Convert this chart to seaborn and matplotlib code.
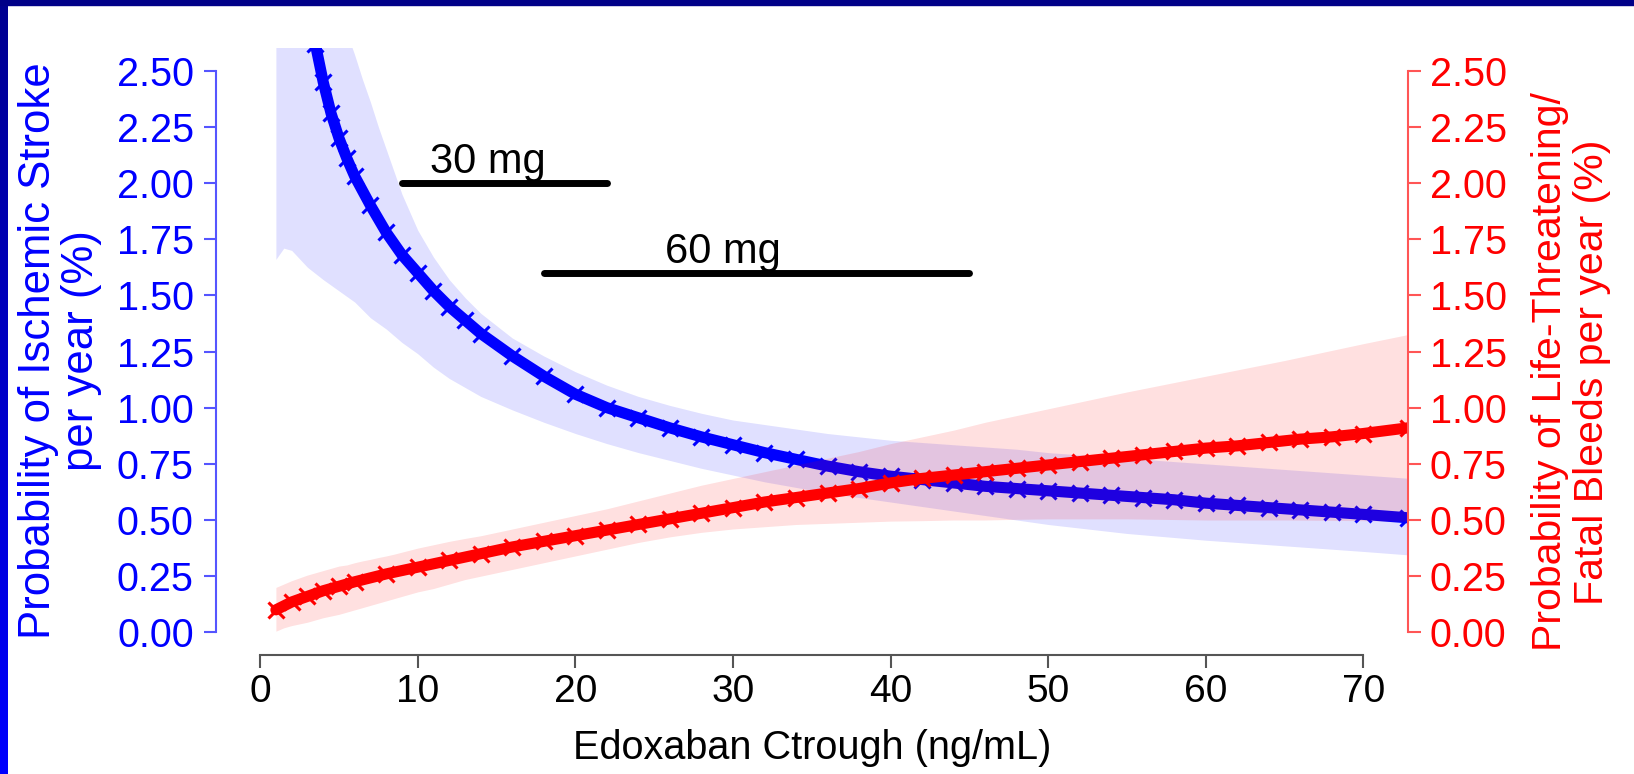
import numpy as np
import matplotlib
matplotlib.use("Agg")
import matplotlib.pyplot as plt
from matplotlib.patches import Rectangle
import seaborn as sns

# ------------------------------------------------------------
# Values
# ------------------------------------------------------------
# Ischemic stroke (blue, left axis) - central estimate
stroke_x = [3.5, 4, 4.5, 5, 5.5, 6, 7, 8, 9, 10, 11, 12, 13, 14,
            16, 18, 20, 22, 24, 26, 28, 30, 32, 34, 36, 38, 40, 42,
            44, 46, 48, 50, 52, 54, 56, 58, 60, 62, 64, 66, 68, 70, 72.8]
stroke_y = [2.62, 2.45, 2.31, 2.20, 2.11, 2.03, 1.90, 1.78, 1.68, 1.60, 1.52, 1.45, 1.39, 1.33,
            1.23, 1.14, 1.06, 1.00, 0.955, 0.91, 0.87, 0.835, 0.80, 0.77, 0.74, 0.715, 0.695, 0.68,
            0.665, 0.65, 0.64, 0.63, 0.62, 0.61, 0.60, 0.59, 0.575, 0.565, 0.555, 0.545, 0.535, 0.525, 0.51]

# Life-threatening / fatal bleeds (red, right axis) - central estimate
bleed_x = [1, 2, 3, 4, 5, 6, 8, 10, 12, 14, 16, 18, 20, 22, 24, 26, 28, 30, 32,
           34, 36, 38, 40, 42, 44, 46, 48, 50, 52, 54, 56, 58, 60, 62, 64, 66, 68, 70, 72.8]
bleed_y = [0.10, 0.135, 0.16, 0.185, 0.205, 0.225, 0.26, 0.29, 0.32, 0.35, 0.38, 0.405, 0.43,
           0.455, 0.48, 0.505, 0.53, 0.555, 0.58, 0.60, 0.62, 0.64, 0.665, 0.685, 0.70, 0.715,
           0.73, 0.745, 0.76, 0.775, 0.79, 0.805, 0.82, 0.83, 0.845, 0.86, 0.87, 0.885, 0.91]

# confidence bands
band_x = [1, 1.5, 2, 3, 4, 5, 5.5, 6, 6.5, 7, 7.5, 8, 8.5, 9, 10, 11, 12, 13, 14,
          16, 18, 20, 22, 24, 26, 28, 30, 32, 34, 36, 38, 40, 42, 44, 46, 48, 50,
          55, 60, 65, 70, 72.8]
stroke_hi = [2.75, 2.75, 2.75, 2.75, 2.75, 2.72, 2.67, 2.57, 2.46, 2.36, 2.25, 2.15, 2.05, 1.95,
             1.79, 1.67, 1.57, 1.49, 1.42, 1.31, 1.23, 1.16, 1.10, 1.05, 1.01, 0.975, 0.945,
             0.925, 0.905, 0.885, 0.87, 0.855, 0.845, 0.835, 0.825, 0.815, 0.80,
             0.775, 0.75, 0.725, 0.70, 0.686]
stroke_lo = [1.66, 1.71, 1.70, 1.625, 1.57, 1.52, 1.495, 1.47, 1.435, 1.40, 1.375, 1.35, 1.32, 1.29,
             1.24, 1.18, 1.13, 1.09, 1.05, 0.99, 0.935, 0.885, 0.84, 0.80, 0.765, 0.73, 0.70,
             0.67, 0.645, 0.62, 0.60, 0.58, 0.56, 0.54, 0.52, 0.50, 0.48,
             0.44, 0.41, 0.385, 0.36, 0.345]
bleed_hi = [0.20, 0.215, 0.23, 0.255, 0.275, 0.295, 0.30, 0.31, 0.318, 0.325, 0.333, 0.34, 0.348, 0.357,
            0.375, 0.39, 0.405, 0.418, 0.43, 0.46, 0.49, 0.52, 0.55, 0.585, 0.62, 0.655, 0.685,
            0.715, 0.745, 0.775, 0.805, 0.84, 0.87, 0.90, 0.935, 0.965, 0.995,
            1.07, 1.14, 1.21, 1.285, 1.325]
bleed_lo = [0.005, 0.02, 0.03, 0.045, 0.065, 0.08, 0.09, 0.10, 0.11, 0.12, 0.13, 0.14, 0.15, 0.16,
            0.18, 0.195, 0.215, 0.235, 0.25, 0.28, 0.31, 0.34, 0.37, 0.40, 0.425, 0.445, 0.46,
            0.47, 0.48, 0.485, 0.49, 0.495, 0.497, 0.50, 0.50, 0.503, 0.505,
            0.505, 0.50, 0.50, 0.497, 0.495]

# dose range bars
dose_labels = ["30 mg", "60 mg"]
dose_start = [9, 18]
dose_end = [22, 45]
dose_level = [2.0, 1.6]

x_ticks = [0, 10, 20, 30, 40, 50, 60, 70]
y_ticks = [0.0, 0.25, 0.5, 0.75, 1.0, 1.25, 1.5, 1.75, 2.0, 2.25, 2.5]

# ------------------------------------------------------------
# Style
# ------------------------------------------------------------
sns.set_theme(style="white")
plt.rcParams["font.family"] = ["Liberation Sans", "DejaVu Sans"]

BLUE = "#0000ff"
RED = "#ff0000"

W, H = 1634, 774
fig = plt.figure(figsize=(W / 100, H / 100), dpi=100)
fig.patch.set_facecolor("white")

# slide frame: navy strip on top, blue gradient strip on the left
ax_bg = fig.add_axes([0, 0, 8 / W, 1])
grad = np.linspace(0, 1, 256).reshape(-1, 1)
ax_bg.imshow(grad, aspect="auto", extent=[0, 1, 0, 1],
             cmap=matplotlib.colors.LinearSegmentedColormap.from_list("b", ["#0000ff", "#000090"]),
             origin="lower")
ax_bg.set_axis_off()
fig.patches.append(Rectangle((0, 1 - 5 / H), 1, 5 / H, transform=fig.transFigure,
                             color="#000088", zorder=10))

left, right = 216 / W, 1407.5 / W
bottom, top = 1 - 654.8 / H, 1 - 48.2 / H
ax = fig.add_axes([left, bottom, right - left, top - bottom])
ax.set_facecolor("white")

# blue band + curve (left axis)
ax.fill_between(band_x, stroke_lo, stroke_hi, color=BLUE, alpha=0.12, linewidth=0)
sns.lineplot(x=stroke_x, y=stroke_y, ax=ax, color=BLUE, linewidth=8, marker="x",
             markersize=11, markeredgewidth=2.2, markeredgecolor=BLUE)

ax.set_xlim(-2.8, 72.8)
ax.set_ylim(-0.1, 2.6)
ax.set_xticks(x_ticks)
ax.set_yticks(y_ticks)
ax.set_yticklabels([f"{v:.2f}" for v in y_ticks])
for s in ["top", "right"]:
    ax.spines[s].set_visible(False)
ax.spines["left"].set_bounds(0, 2.5)
ax.spines["left"].set_color("#5555ff")
ax.spines["left"].set_linewidth(1.5)
ax.spines["bottom"].set_bounds(0, 70)
ax.spines["bottom"].set_color("#555555")
ax.spines["bottom"].set_linewidth(1.5)
ax.tick_params(axis="y", left=True, length=9, width=1.5, color="#5555ff",
               labelcolor=BLUE, labelsize=28.5, pad=7)
ax.tick_params(axis="x", bottom=True, length=9.5, width=1.5, color="#555555",
               labelcolor="black", labelsize=28, pad=4)
ax.set_xlabel("Edoxaban Ctrough (ng/mL)", fontsize=28.5, color="black", labelpad=14)
ax.set_ylabel("")
ax.grid(False)

# red band + curve (right axis)
ax2 = ax.twinx()
ax2.fill_between(band_x, bleed_lo, bleed_hi, color=RED, alpha=0.12, linewidth=0)
sns.lineplot(x=bleed_x, y=bleed_y, ax=ax2, color=RED, linewidth=8, marker="x",
             markersize=11, markeredgewidth=2.2, markeredgecolor=RED)
ax2.set_ylim(-0.1, 2.6)
ax2.set_yticks(y_ticks)
ax2.set_yticklabels([f"{v:.2f}" for v in y_ticks])
for s in ["top", "left", "bottom"]:
    ax2.spines[s].set_visible(False)
ax2.spines["right"].set_bounds(0, 2.5)
ax2.spines["right"].set_color("#ff5555")
ax2.spines["right"].set_linewidth(1.5)
ax2.tick_params(axis="y", right=True, length=9, width=1.5, color="#ff5555",
                labelcolor=RED, labelsize=28.5, pad=7)
ax2.set_ylabel("")
ax2.grid(False)

# dose bars
for lab, x0, x1, lv in zip(dose_labels, dose_start, dose_end, dose_level):
    ax2.plot([x0, x1], [lv, lv], color="black", linewidth=5, solid_capstyle="round")
    ax2.text(x0 + 0.42 * (x1 - x0), lv + 0.045, lab, ha="center", va="baseline",
             fontsize=30, color="black")

# axis titles
fig.text(60 / W, 1 - 351 / H, "Probability of Ischemic Stroke\nper year (%)",
         rotation=90, ha="center", va="center", multialignment="center",
         fontsize=31.5, color=BLUE, linespacing=1.08)
fig.text(1571 / W, 1 - 372 / H, "Probability of Life-Threatening/\nFatal Bleeds per year (%)",
         rotation=90, ha="center", va="center", multialignment="center",
         fontsize=29.5, color=RED, linespacing=1.15)

fig.savefig("out.png", dpi=100, facecolor="white")
